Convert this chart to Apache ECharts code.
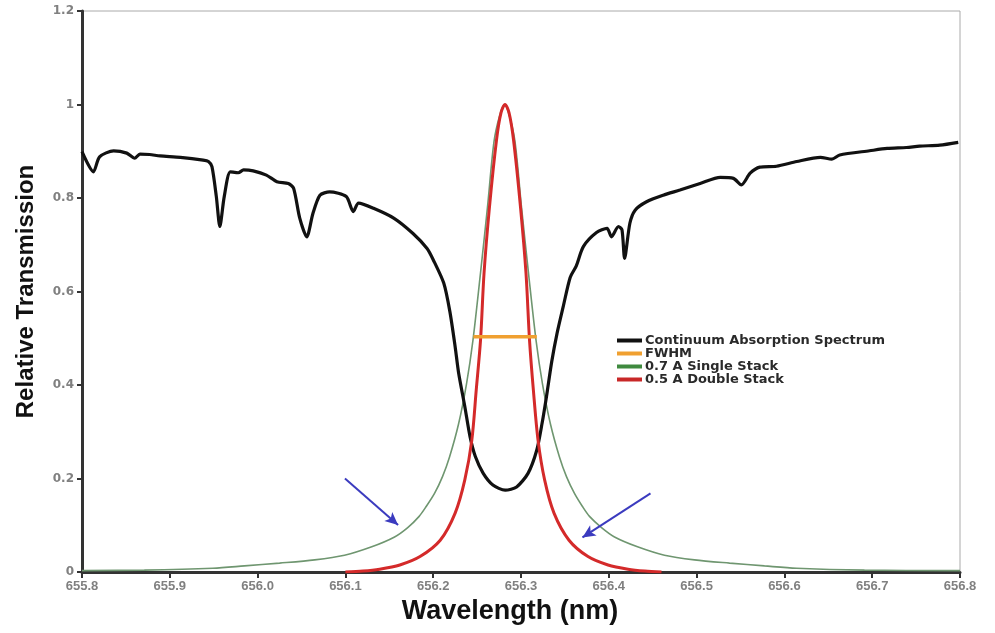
<!DOCTYPE html>
<html>
<head>
<meta charset="utf-8">
<script src="https://cdn.jsdelivr.net/npm/echarts@6/dist/echarts.min.js"></script>
<style>html,body{margin:0;padding:0;background:#fff}#c{width:995px;height:633px}</style>
</head>
<body>
<div id="c"></div>
<script>
const xTickLabels = ['655.8','655.9','656.0','656.1','656.2','656.3','656.4','656.5','656.6','656.7','656.8'];
const yTickLabels = ['0','0.2','0.4','0.6','0.8','1','1.2'];
const seriesNames = ['Continuum Absorption Spectrum','FWHM','0.7 A Single Stack','0.5 A Double Stack'];

const continuumWl = [655.800,655.813,655.820,655.836,655.851,655.860,655.866,655.877,655.889,655.912,655.938,655.944,655.948,655.953,655.957,655.962,655.969,655.978,655.984,655.995,656.010,656.022,656.035,656.041,656.048,656.056,656.063,656.071,656.082,656.101,656.109,656.115,656.132,656.155,656.177,656.193,656.200,656.212,656.219,656.225,656.229,656.236,656.242,656.248,656.257,656.268,656.282,656.295,656.308,656.318,656.324,656.329,656.335,656.341,656.348,656.356,656.363,656.371,656.386,656.398,656.403,656.411,656.415,656.418,656.424,656.430,656.443,656.462,656.481,656.504,656.527,656.542,656.551,656.561,656.572,656.591,656.614,656.641,656.654,656.663,656.697,656.717,656.739,656.754,656.777,656.798];
const continuumVal = [0.899,0.856,0.888,0.901,0.896,0.885,0.894,0.893,0.890,0.887,0.881,0.878,0.867,0.803,0.739,0.803,0.856,0.854,0.860,0.858,0.849,0.835,0.831,0.821,0.757,0.717,0.767,0.806,0.813,0.803,0.771,0.789,0.778,0.757,0.724,0.692,0.668,0.618,0.557,0.482,0.425,0.354,0.289,0.247,0.211,0.186,0.175,0.182,0.211,0.261,0.318,0.375,0.450,0.510,0.567,0.630,0.655,0.696,0.726,0.735,0.717,0.739,0.732,0.671,0.746,0.774,0.792,0.806,0.817,0.831,0.844,0.842,0.828,0.853,0.866,0.868,0.878,0.887,0.883,0.892,0.901,0.906,0.908,0.911,0.913,0.919];

const fwhmWl = [656.2458, 656.3180];
const fwhmVal = [0.503, 0.503];

const singleWl = [655.800,655.871,655.949,655.985,656.025,656.065,656.099,656.130,656.156,656.171,656.184,656.192,656.2015,656.2106,656.2186,656.2288,656.2379,656.2453,656.2539,656.2618,656.2692,656.2755,656.2812,656.2869,656.2932,656.3006,656.3085,656.3171,656.3245,656.3336,656.3438,656.3518,656.3609,656.370,656.378,656.3917,656.4065,656.4327,656.4634,656.4976,656.5375,656.5773,656.6138,656.6912,656.800];
const singleVal = [0.003,0.004,0.008,0.013,0.019,0.026,0.036,0.054,0.075,0.095,0.119,0.140,0.168,0.204,0.246,0.316,0.402,0.496,0.640,0.780,0.920,0.975,1.000,0.975,0.920,0.780,0.640,0.496,0.402,0.316,0.246,0.204,0.168,0.140,0.119,0.095,0.075,0.054,0.036,0.026,0.019,0.013,0.008,0.004,0.003];

const doubleWl = [656.100,656.120,656.139,656.162,656.185,656.208,656.225,656.236,656.244,656.249,656.2539,656.2579,656.2641,656.2721,656.2772,656.2818,656.2864,656.2915,656.2994,656.3057,656.3097,656.3141,656.3194,656.3269,656.3376,656.3547,656.3763,656.3991,656.4219,656.441,656.460];
const doubleVal = [0.000,0.002,0.006,0.015,0.033,0.068,0.126,0.197,0.282,0.389,0.496,0.639,0.781,0.924,0.982,1.000,0.982,0.924,0.781,0.639,0.496,0.389,0.282,0.197,0.126,0.068,0.033,0.015,0.006,0.002,0.000];

const arrowStarts = [[656.0995, 0.200], [656.4475, 0.168]];
const arrowTips   = [[656.1600, 0.1005], [656.3700, 0.074]];

const zip = (a, b) => a.map((v, i) => [v, b[i]]);

const chart = echarts.init(document.getElementById('c'), null, {renderer: 'canvas'});
chart.setOption({
  animation: false,
  backgroundColor: '#fff',
  grid: {left: 82, right: 35, top: 11, bottom: 61, show: true, borderColor: '#aaaaaa', borderWidth: 1},
  legend: {
    orient: 'vertical', left: 612, top: 329,
    data: seriesNames,
    icon: 'rect', itemWidth: 25, itemHeight: 4, itemGap: 0,
    textStyle: {fontFamily: 'DejaVu Sans', fontWeight: 'bold', fontSize: 13, color: '#2a2a2a', lineHeight: 13, padding: [0,0,0,-2]}
  },
  xAxis: {
    type: 'value', min: 655.8, max: 656.8, interval: 0.1,
    name: 'Wavelength (nm)', nameLocation: 'middle', nameGap: 24,
    nameTextStyle: {fontFamily: 'Liberation Sans', fontWeight: 'bold', fontSize: 27, color: '#111', padding: [0, 22, 0, 0]},
    axisLine: {lineStyle: {color: '#333', width: 3}},
    axisTick: {show: true, length: 6, lineStyle: {color: '#333', width: 2}},
    axisLabel: {
      fontFamily: 'Liberation Sans Narrow, Liberation Sans', fontWeight: 'bold', fontSize: 13, color: '#808080', margin: 8,
      formatter: v => { const i = Math.round((v - 655.8) * 10); return xTickLabels[i] !== undefined ? xTickLabels[i] : ''; }
    },
    splitLine: {show: false}
  },
  yAxis: {
    type: 'value', min: 0, max: 1.2, interval: 0.2,
    name: 'Relative Transmission', nameLocation: 'middle', nameGap: 44,
    nameTextStyle: {fontFamily: 'Liberation Sans', fontWeight: 'bold', fontSize: 24, color: '#111'},
    axisLine: {lineStyle: {color: '#333', width: 3}},
    axisTick: {show: true, length: 5, lineStyle: {color: '#333', width: 2}},
    axisLabel: {
      fontFamily: 'DejaVu Sans', fontWeight: 'bold', fontSize: 12, color: '#808080', margin: 8,
      formatter: v => { const i = Math.round(v * 5); return yTickLabels[i] !== undefined ? yTickLabels[i] : ''; }
    },
    splitLine: {show: false}
  },
  series: [
    {
      name: seriesNames[2], type: 'line', data: zip(singleWl, singleVal), showSymbol: false, smooth: 0.3, z: 2,
      lineStyle: {color: '#6f9670', width: 1.6}, itemStyle: {color: '#3f8a3f'}
    },
    {
      name: seriesNames[0], type: 'line', data: zip(continuumWl, continuumVal), showSymbol: false, smooth: 0.25, z: 3,
      lineStyle: {color: '#111', width: 3.2}, itemStyle: {color: '#111'}
    },
    {
      name: seriesNames[3], type: 'line', data: zip(doubleWl, doubleVal), showSymbol: false, smooth: 0.3, z: 4,
      lineStyle: {color: '#d42a2a', width: 3}, itemStyle: {color: '#c82828'},
      markLine: {
        silent: true, symbol: ['none', 'arrow'], symbolSize: [9, 13],
        lineStyle: {color: '#3b3bbf', width: 2, type: 'solid'}, label: {show: false},
        data: arrowStarts.map((s, i) => [{coord: s}, {coord: arrowTips[i]}])
      }
    },
    {
      name: seriesNames[1], type: 'line', data: zip(fwhmWl, fwhmVal), showSymbol: false, z: 5,
      lineStyle: {color: '#f0a030', width: 3.5}, itemStyle: {color: '#f0a030'}
    }
  ]
});
</script>
</body>
</html>
